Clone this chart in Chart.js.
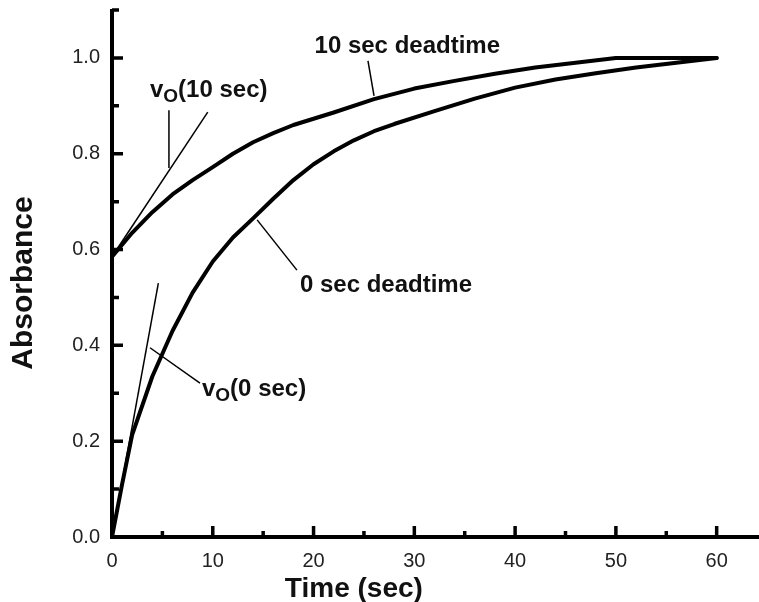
<!DOCTYPE html>
<html>
<head>
<meta charset="utf-8">
<script src="https://cdn.jsdelivr.net/npm/chart.js@4.4.1/dist/chart.umd.min.js"></script>
<style>
  html, body { margin: 0; padding: 0; background: #fff; }
  #wrap { width: 759px; height: 602px; position: relative; }
</style>
</head>
<body>
<div id="wrap"><canvas id="chart"></canvas></div>
<script>
// 0 sec deadtime curve
const time0 = [0, 1, 2, 4, 6, 8, 10, 12, 14, 16, 18, 20, 22, 24, 26, 28, 32, 36, 40, 44, 48, 52, 56, 60];
const abs0 = [0, 0.11, 0.213, 0.335, 0.43, 0.51, 0.575, 0.625, 0.665, 0.706, 0.745, 0.778, 0.805, 0.828, 0.847, 0.862, 0.889, 0.915, 0.938, 0.955, 0.968, 0.98, 0.99, 1.0];

// 10 sec deadtime curve
const time10 = [0, 2, 4, 6, 8, 10, 12, 14, 16, 18, 22, 26, 30, 34, 38, 42, 46, 50, 60];
const abs10 = [0.585, 0.635, 0.678, 0.715, 0.745, 0.772, 0.8, 0.824, 0.843, 0.86, 0.886, 0.914, 0.936, 0.952, 0.967, 0.98, 0.99, 1.0, 1.0];

// initial-rate tangents
const tan0X = [0, 4.6];
const tan0Y = [0, 0.53];
const tan10X = [0, 9.5];
const tan10Y = [0.585, 0.887];

// tick values
const xMajor = [0, 10, 20, 30, 40, 50, 60];
const xMinor = [5, 15, 25, 35, 45, 55];
const yMajor = [0, 0.2, 0.4, 0.6, 0.8, 1.0];
const yMinor = [0.1, 0.3, 0.5, 0.7, 0.9, 1.1];

// leader lines from labels to curves, in data units [x1, y1, x2, y2]
const leaders = [
    [5.65, 0.891, 5.65, 0.77],
    [3.77, 0.395, 8.73, 0.321],
    [14.4, 0.662, 18.35, 0.557],
    [25.4, 0.994, 26.0, 0.921]
];

function pts(xs, ys) {
    return xs.map((x, i) => ({ x: x, y: ys[i] }));
}

const FONT = '"Liberation Sans", Arial, sans-serif';

const thick = { borderColor: '#000', borderWidth: 4, pointRadius: 0, tension: 0, fill: false, borderJoinStyle: 'round', borderCapStyle: 'round' };
const thin = { borderColor: '#000', borderWidth: 1.5, pointRadius: 0, tension: 0, fill: false };

const datasets = [
    Object.assign({ label: '0 sec deadtime', data: pts(time0, abs0) }, thick),
    Object.assign({ label: '10 sec deadtime', data: pts(time10, abs10) }, thick),
    Object.assign({ label: 'vo(0 sec)', data: pts(tan0X, tan0Y) }, thin),
    Object.assign({ label: 'vo(10 sec)', data: pts(tan10X, tan10Y) }, thin)
];
leaders.forEach((l, i) => {
    datasets.push(Object.assign({ label: 'leader' + i, data: [{ x: l[0], y: l[1] }, { x: l[2], y: l[3] }] }, thin));
});

// axes, ticks and text labels
const framePlugin = {
    id: 'frame',
    beforeDatasetsDraw(chart) {
        const ctx = chart.ctx;
        const xs = chart.scales.x, ys = chart.scales.y;
        const x0 = xs.getPixelForValue(0), y0 = ys.getPixelForValue(0);
        ctx.save();
        ctx.strokeStyle = '#000';
        ctx.lineCap = 'butt';
        ctx.lineWidth = 4;
        ctx.beginPath();
        ctx.moveTo(x0, ys.getPixelForValue(1.1) - 1);
        ctx.lineTo(x0, y0 + 2);
        ctx.moveTo(x0 - 2, y0);
        ctx.lineTo(chart.width, y0);
        ctx.stroke();
        ctx.lineWidth = 3.5;
        ctx.beginPath();
        xMajor.forEach(v => { const p = xs.getPixelForValue(v); ctx.moveTo(p, y0); ctx.lineTo(p, y0 - 11); });
        xMinor.forEach(v => { const p = xs.getPixelForValue(v); ctx.moveTo(p, y0); ctx.lineTo(p, y0 - 6); });
        yMajor.forEach(v => { const p = ys.getPixelForValue(v); ctx.moveTo(x0, p); ctx.lineTo(x0 + 11, p); });
        yMinor.forEach(v => { const p = ys.getPixelForValue(v); ctx.moveTo(x0, p); ctx.lineTo(x0 + 7, p); });
        ctx.stroke();
        ctx.restore();
    },
    afterDatasetsDraw(chart) {
        const ctx = chart.ctx;
        const xs = chart.scales.x, ys = chart.scales.y;
        const px = v => xs.getPixelForValue(v);
        const py = v => ys.getPixelForValue(v);
        ctx.save();
        ctx.fillStyle = '#111';
        ctx.textBaseline = 'alphabetic';
        ctx.textAlign = 'left';
        ctx.font = 'bold 24px ' + FONT;
        ctx.fillText('10 sec deadtime', px(20.1), py(1.01));
        ctx.fillText('0 sec deadtime', px(18.65), py(0.511));

        function vo(x, y, rest) {
            ctx.font = 'bold 24px ' + FONT;
            ctx.fillText('v', x, y);
            let w = ctx.measureText('v').width;
            ctx.font = 'bold 19px ' + FONT;
            ctx.fillText('O', x + w, y + 5);
            w += ctx.measureText('O').width;
            ctx.font = 'bold 24px ' + FONT;
            ctx.fillText(rest, x + w, y);
        }
        vo(px(3.77), py(0.919), '(10 sec)');
        vo(px(8.93), py(0.294), '(0 sec)');

        // axis titles
        ctx.font = 'bold 28px ' + FONT;
        ctx.textAlign = 'center';
        ctx.fillText('Time (sec)', px(24), 597);
        ctx.font = 'bold 30px ' + FONT;
        ctx.translate(24, py(0.53));
        ctx.rotate(-Math.PI / 2);
        ctx.textBaseline = 'middle';
        ctx.fillText('Absorbance', 0, 0);
        ctx.restore();
    }
};

new Chart(document.getElementById('chart'), {
    type: 'line',
    data: { datasets: datasets },
    options: {
        responsive: true,
        maintainAspectRatio: false,
        animation: false,
        events: [],
        layout: { padding: { top: 10, right: 0, left: 0, bottom: 0 } },
        plugins: { legend: { display: false }, tooltip: { enabled: false } },
        scales: {
            x: {
                type: 'linear',
                min: 0,
                max: 64.2,
                grid: { display: false, drawTicks: false },
                border: { display: false },
                ticks: {
                    stepSize: 10,
                    includeBounds: false,
                    padding: 12,
                    color: '#222',
                    font: { family: FONT, size: 20 },
                    maxRotation: 0
                },
                afterFit(scale) {
                    scale.height = 65;
                    scale.paddingLeft = 0;
                    scale.paddingRight = 0;
                }
            },
            y: {
                min: 0,
                max: 1.1,
                grid: { display: false, drawTicks: false },
                border: { display: false },
                ticks: {
                    stepSize: 0.2,
                    includeBounds: false,
                    padding: 12,
                    color: '#222',
                    font: { family: FONT, size: 20 },
                    callback: v => v.toFixed(1)
                },
                afterFit(scale) {
                    scale.width = 112;
                    scale.paddingTop = 0;
                    scale.paddingBottom = 0;
                }
            }
        }
    },
    plugins: [framePlugin]
});
</script>
</body>
</html>
